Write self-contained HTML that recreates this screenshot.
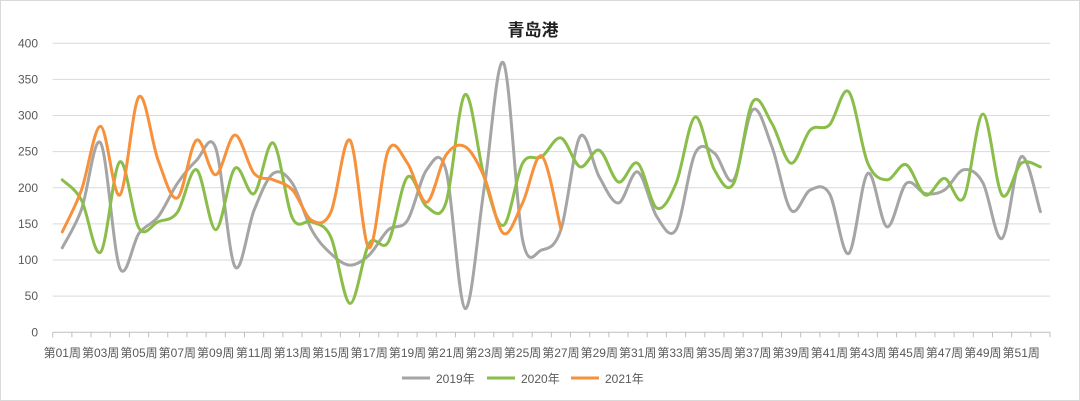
<!DOCTYPE html>
<html><head><meta charset="utf-8"><style>
body{margin:0;background:#fff;}
svg{display:block;font-family:"Liberation Sans","Noto Sans CJK SC",sans-serif;}
</style></head><body>
<svg id="c" width="1080" height="401" xmlns="http://www.w3.org/2000/svg">
<rect x="0.5" y="0.5" width="1079" height="400" fill="#fff" stroke="#d9d9d9"/>
<text x="533" y="36" font-size="17" font-weight="bold" text-anchor="middle" fill="#222" font-family="'Liberation Sans','Noto Sans CJK SC',sans-serif">青岛港</text>
<g id="grid"></g><g id="lines"></g>
<g font-size="12" fill="#595959">
<line x1="402" y1="378" x2="430" y2="378" stroke="#a5a5a5" stroke-width="3"/><text x="436" y="383">2019年</text>
<line x1="487" y1="378" x2="515" y2="378" stroke="#8bbd4a" stroke-width="3"/><text x="521" y="383">2020年</text>
<line x1="571" y1="378" x2="599" y2="378" stroke="#f7913b" stroke-width="3"/><text x="605" y="383">2021年</text>
</g>
</svg>
<script>
var ns="http://www.w3.org/2000/svg";
var L=52.7,R=1050,T=43.3,B=332.3,S=(B-T)/400,W=(R-L)/52;
function X(i){return L+(i+0.5)*W;}function Y(v){return B-v*S;}
var g=document.getElementById('grid'),h='';
for(var v=0;v<=400;v+=50){var y=Y(v);h+='<line x1="'+L+'" x2="'+R+'" y1="'+y+'" y2="'+y+'" stroke="'+(v?'#d9d9d9':'#bfbfbf')+'" stroke-width="1"/>';
h+='<text x="38" y="'+(y+4)+'" font-size="12" fill="#595959" text-anchor="end">'+v+'</text>';}
for(var i=0;i<=52;i++){var x=L+i*W;h+='<line x1="'+x+'" x2="'+x+'" y1="'+B+'" y2="'+(B+5)+'" stroke="#bfbfbf"/>';}
for(var i=0;i<52;i+=2){var n=i+1;h+='<text x="'+X(i)+'" y="357" font-size="12" fill="#595959" text-anchor="middle">第'+(n<10?'0':'')+n+'周</text>';}
g.innerHTML=h;
var d19=[117,170,262,89,137,160,206,238,255,91,169,220,206,142,109,93,107,142,155,225,225,33,200,373,128,114,142,271,215,179,222,160,142,248,248,211,308,257,169,197,192,109,220,146,206,192,197,225,207,130,243,167];
var d20=[211,183,111,236,144,153,166,225,142,227,192,262,158,153,132,40,123,125,215,174,179,329,215,148,234,243,269,229,252,208,234,172,206,298,225,206,319,289,234,280,287,333,234,211,232,190,213,186,302,190,234,229];
var d21=[139,197,285,190,326,238,186,266,218,273,220,211,197,155,166,266,117,252,234,180,245,257,215,137,179,244,143];
function path(d){var p=d.map(function(v,i){return[X(i),Y(v)];});var s='M'+p[0][0]+','+p[0][1];
for(var i=0;i<p.length-1;i++){var p0=p[i-1]||p[i],p1=p[i],p2=p[i+1],p3=p[i+2]||p[i+1];
var c1=[p1[0]+(p2[0]-p0[0])/6,p1[1]+(p2[1]-p0[1])/6],c2=[p2[0]-(p3[0]-p1[0])/6,p2[1]-(p3[1]-p1[1])/6];
s+=' C'+c1+' '+c2+' '+p2;}return s;}
var l=document.getElementById('lines');
[[d19,'#a5a5a5'],[d20,'#8bbd4a'],[d21,'#f7913b']].forEach(function(a){var e=document.createElementNS(ns,'path');e.setAttribute('d',path(a[0]));e.setAttribute('fill','none');e.setAttribute('stroke',a[1]);e.setAttribute('stroke-width','3');e.setAttribute('stroke-linejoin','round');e.setAttribute('stroke-linecap','round');l.appendChild(e);});
</script>
</body></html>
